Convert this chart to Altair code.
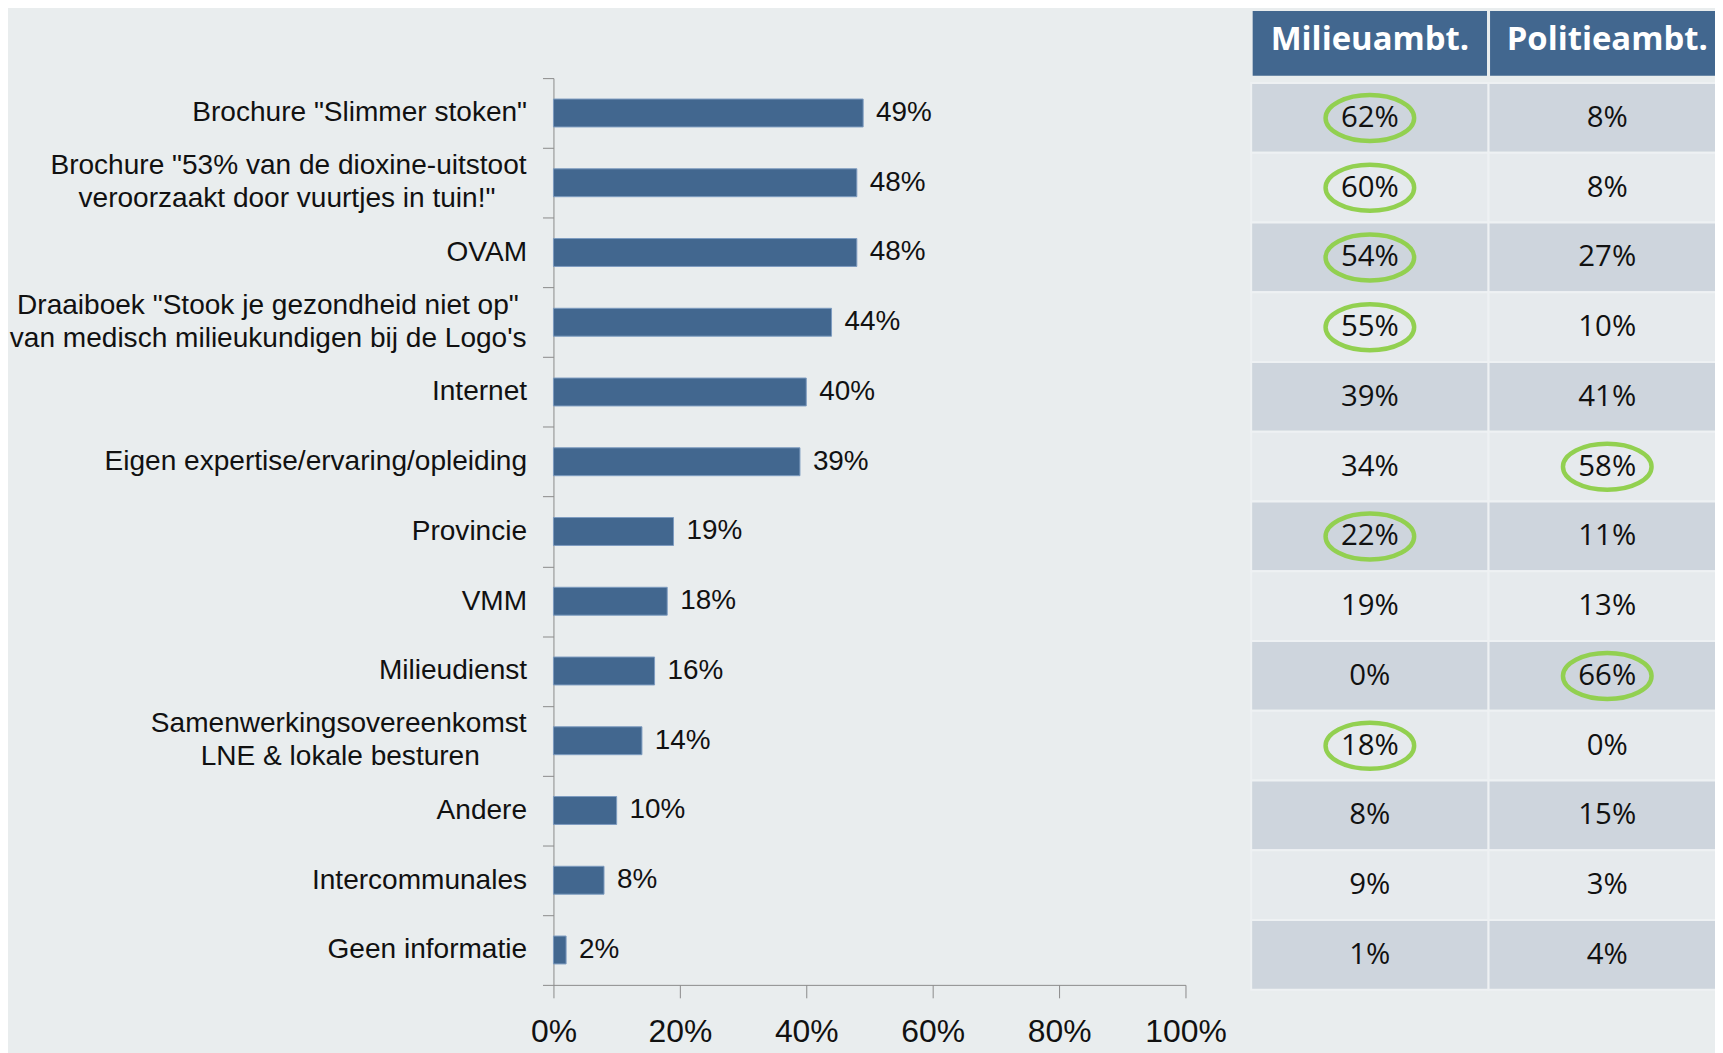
import altair as alt
import pandas as pd

# ---------------- data ----------------
categories = [
    'Brochure "Slimmer stoken"',
    'Brochure "53% van de dioxine-uitstoot|veroorzaakt door vuurtjes in tuin!"',
    'OVAM',
    'Draaiboek "Stook je gezondheid niet op"|van medisch milieukundigen bij de Logo\'s',
    'Internet',
    'Eigen expertise/ervaring/opleiding',
    'Provincie',
    'VMM',
    'Milieudienst',
    'Samenwerkingsovereenkomst|LNE & lokale besturen',
    'Andere',
    'Intercommunales',
    'Geen informatie',
]
totals = [49, 48, 48, 44, 40, 39, 19, 18, 16, 14, 10, 8, 2]
milieu = [62, 60, 54, 55, 39, 34, 22, 19, 0, 18, 8, 9, 1]
politie = [8, 8, 27, 10, 41, 58, 11, 13, 66, 0, 15, 3, 4]
milieu_circled = [True, True, True, True, False, False, True, False, False, True, False, False, False]
politie_circled = [False, False, False, False, False, True, False, False, True, False, False, False, False]
columns = ["Milieuambt.", "Politieambt."]
x_ticks = [0, 20, 40, 60, 80, 100]

# trailing non-breaking spaces per line, so that the lines of two-line labels look centred
label_line_pads = {1: (0, 4), 3: (1, 0), 9: (0, 6)}

BG = "#e9edee"
BAR = "#42678f"
AXIS = "#8a8a8a"
LABEL_FONT = "Liberation Sans"
TABLE_FONT = "Open Sans"
LABEL_SIZE = 28.2
LINE_H = 33

# ---------------- tables ----------------
bars_df = pd.DataFrame({"cat": categories, "pct": totals})
bars_df["label"] = bars_df["pct"].astype(str) + "%"

rows = []
for i, c in enumerate(categories):
    for col, vals, circ in ((columns[0], milieu, milieu_circled), (columns[1], politie, politie_circled)):
        rows.append({
            "cat": c, "col": col, "val": vals[i], "label": f"{vals[i]}%",
            "shade": "dark" if i % 2 == 0 else "light", "circ": circ[i],
        })
table_df = pd.DataFrame(rows)
header_df = pd.DataFrame({"col": columns})

NBSP, ZW = "\u00a0", "\u200b"
line_rows = []
for i, c in enumerate(categories):
    parts = c.split("|")
    if len(parts) < 2:
        continue
    pads = label_line_pads.get(i, (0, 0))
    for j, txt in enumerate(parts):
        line_rows.append({"cat": c, "line": txt + NBSP * pads[j] + ZW, "pos": j})
lines_df = pd.DataFrame(line_rows)

y_enc = alt.Y(
    "cat:N",
    scale=alt.Scale(domain=categories, paddingInner=0, paddingOuter=0),
    axis=alt.Axis(
        title=None, grid=False, domainColor=AXIS, tickColor=AXIS, tickSize=11,
        tickBand="extent", labelFont=LABEL_FONT, labelFontSize=LABEL_SIZE,
        labelColor="#111111", labelLimit=0, labelPadding=16,
        labelExpr="indexof(datum.label, '|') >= 0 ? '' : datum.label",
    ),
)

x_bar = alt.X(
    "pct:Q",
    scale=alt.Scale(domain=[0, 100]),
    axis=alt.Axis(
        title=None, grid=False, values=x_ticks, labelExpr="datum.value + '%'",
        domainColor=AXIS, tickColor=AXIS, tickSize=13, labelPadding=19,
        labelFlush=False, labelOverlap=False,
        labelFont=LABEL_FONT, labelFontSize=32, labelColor="#111111",
    ),
)

bars = alt.Chart(bars_df).mark_bar(
    height={"band": 0.4}, color=BAR, stroke="#7d9bc0", strokeWidth=1
).encode(x=x_bar, y=y_enc)

bar_labels = alt.Chart(bars_df).mark_text(
    align="left", baseline="middle", dx=13, font=LABEL_FONT, fontSize=28, color="#111111"
).encode(x=x_bar, y=y_enc, text="label:N")

# two-line category labels: one text layer per line position
line_layers = []
for j in (0, 1):
    line_layers.append(
        alt.Chart(lines_df).transform_filter(f"datum.pos == {j}").mark_text(
            align="right", baseline="middle", font=LABEL_FONT, fontSize=LABEL_SIZE,
            color="#111111", dy=(j - 0.5) * LINE_H,
        ).encode(x=alt.value(-27), y=y_enc, text="line:N")
    )

bar_part = alt.layer(bars, bar_labels, *line_layers)

x_tab = alt.X(
    "col:N",
    scale=alt.Scale(domain=columns, range=[701, 1178], paddingInner=0, paddingOuter=0),
    axis=None,
)

cells = alt.Chart(table_df).mark_rect(
    yOffset=5, y2Offset=5, stroke="#eef1f3", strokeWidth=2
).encode(
    x=x_tab, y=y_enc,
    color=alt.Color("shade:N", scale=alt.Scale(domain=["dark", "light"], range=["#ced5dd", "#e6eaed"]), legend=None),
)

header_rect = alt.Chart(header_df).mark_rect(
    color=BAR, stroke=BG, strokeWidth=3
).encode(x=x_tab, y=alt.value(-69), y2=alt.value(-1))

header_text = alt.Chart(header_df).mark_text(
    font=TABLE_FONT, fontSize=33, fontWeight="bold", color="white", baseline="middle"
).encode(x=x_tab, y=alt.value(-38), text="col:N")

cell_text = alt.Chart(table_df).mark_text(
    font=TABLE_FONT, fontSize=29.5, color="#111111", baseline="middle", dy=5
).encode(x=x_tab, y=y_enc, text="label:N")

ellipse = "M-1,0A1,0.52,0,1,1,1,0A1,0.52,0,1,1,-1,0Z"
ovals = alt.Chart(table_df).transform_filter("datum.circ").mark_point(
    shape=ellipse, size=7921, filled=False, stroke="#92d050", strokeWidth=4.5,
    opacity=1, yOffset=5,
).encode(x=x_tab, y=y_enc)

table_part = alt.layer(cells, header_rect, header_text, cell_text, ovals)

chart = alt.layer(bar_part, table_part).resolve_scale(x="independent").properties(
    width=635,
    height=911,
    autosize=alt.AutoSizeParams(type="none"),
    padding={"left": 548, "top": 68, "right": 532, "bottom": 66},
    background=BG,
).configure_view(stroke=None)

chart.save("out.html", embed_options={"renderer": "svg", "actions": False})
